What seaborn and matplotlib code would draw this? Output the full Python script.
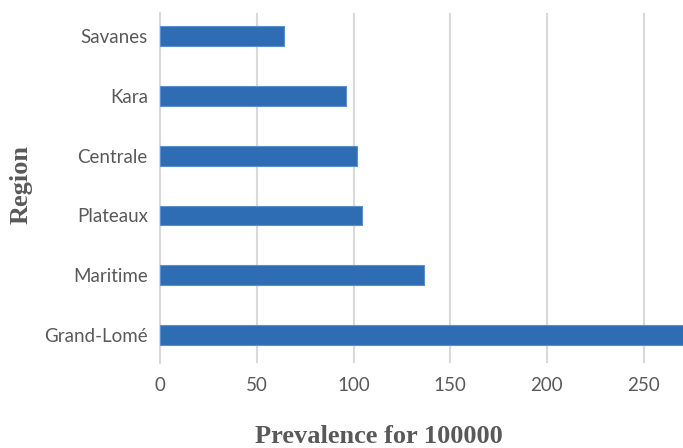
import matplotlib
matplotlib.use("Agg")
import matplotlib.pyplot as plt
import seaborn as sns
import pandas as pd

regions = ["Savanes", "Kara", "Centrale", "Plateaux", "Maritime", "Grand-Lomé"]
prevalence = [64.1, 95.9, 101.9, 104.3, 136.3, 290.0]
x_ticks = [0, 50, 100, 150, 200, 250]

df = pd.DataFrame({"Region": regions, "Prevalence": prevalence})

sns.set_theme(style="white")
plt.rcParams["font.family"] = ["Lato", "DejaVu Sans"]

fig = plt.figure(figsize=(6.83, 4.48), dpi=100)
ax = fig.add_axes([0.2347, 0.1897, 1 - 0.2347, 0.971 - 0.1897])

sns.barplot(data=df, x="Prevalence", y="Region", order=regions, orient="h",
            color="#2E6DB4", saturation=1, width=0.33,
            edgecolor="#5B8FD0", linewidth=0.8, ax=ax, zorder=3)

ax.set_xlim(0, 270.4)
ax.set_ylim(5.47, -0.39)
ax.set_xticks(x_ticks)
ax.grid(axis="x", color="#D9D9D9", linewidth=1.5, zorder=0)
ax.grid(axis="y", visible=False)
for s in ["top", "right", "bottom"]:
    ax.spines[s].set_visible(False)
ax.spines["left"].set_color("#D9D9D9")
ax.spines["left"].set_linewidth(1.5)
ax.tick_params(axis="both", length=0, labelsize=13.5, labelcolor="#595959")
ax.tick_params(axis="x", pad=10)
ax.tick_params(axis="y", pad=9)

label_font = dict(family="Liberation Serif", weight="bold", size=19, color="#595959")
ax.set_xlabel("Prevalence for 100000", **label_font)
ax.set_ylabel("Region", **label_font)
ax.xaxis.set_label_coords(0.418, -0.176)
ax.yaxis.set_label_coords(-0.2435, 0.509)

fig.savefig("out.png", dpi=100)
